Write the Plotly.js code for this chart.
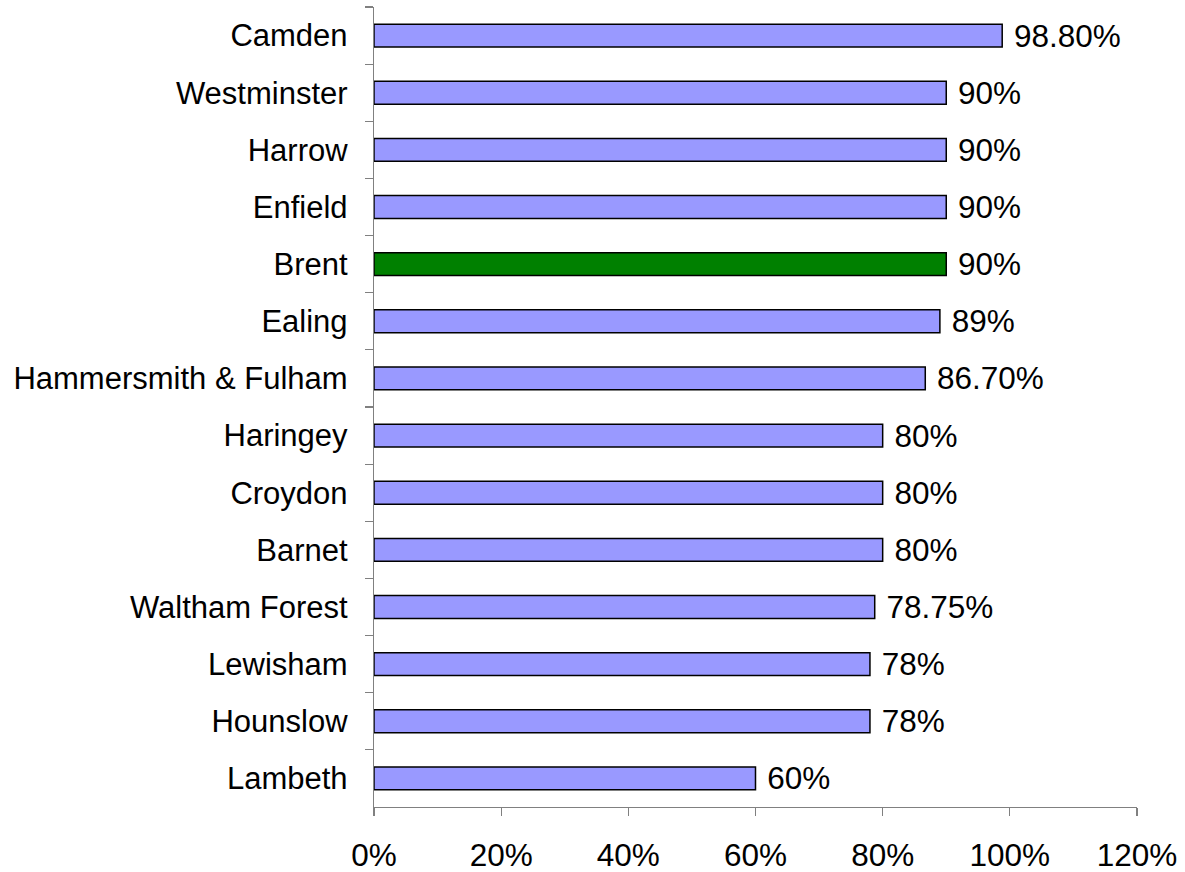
<!DOCTYPE html>
<html>
<head>
<meta charset="utf-8">
<script src="https://cdn.plot.ly/plotly-3.0.1.min.js"></script>
<style>html,body{margin:0;padding:0;background:#fff;}#chart{width:1185px;height:872px;}</style>
</head>
<body>
<div id="chart"></div>
<script>
const boroughs = ["Camden","Westminster","Harrow","Enfield","Brent","Ealing","Hammersmith & Fulham","Haringey","Croydon","Barnet","Waltham Forest","Lewisham","Hounslow","Lambeth"];
const values = [98.8, 90, 90, 90, 90, 89, 86.7, 80, 80, 80, 78.75, 78, 78, 60];
const valueLabels = ["98.80%","90%","90%","90%","90%","89%","86.70%","80%","80%","80%","78.75%","78%","78%","60%"];
const highlight = "Brent";
const xTicks = [0, 20, 40, 60, 80, 100, 120];

const colors = boroughs.map(b => b === highlight ? "#008000" : "#9999FF");
const FONT = "Liberation Sans, Arial, sans-serif";

const trace = {
  type: "bar",
  orientation: "h",
  y: boroughs,
  x: values,
  text: valueLabels.map(t => " " + t),
  textposition: "outside",
  cliponaxis: false,
  constraintext: "none",
  outsidetextfont: {family: FONT, size: 31.5, color: "#000"},
  marker: {color: colors, line: {color: "#000", width: 1.5}},
  width: 0.4,
  hoverinfo: "none"
};

const layout = {
  width: 1185, height: 872,
  margin: {l: 374, r: 48, t: 7, b: 65},
  paper_bgcolor: "#fff", plot_bgcolor: "#fff",
  showlegend: false,
  font: {family: FONT, size: 31, color: "#000"},
  xaxis: {
    range: [0, 120], tickvals: xTicks, ticktext: xTicks.map(v => v + "%"),
    ticks: "outside", ticklen: 8, tickcolor: "#808080", tickwidth: 1.2,
    showline: true, linecolor: "#808080", linewidth: 1.2,
    showgrid: false, zeroline: false, ticklabelstandoff: 12,
    tickfont: {family: FONT, size: 31.5, color: "#000"}, fixedrange: true
  },
  yaxis: {
    type: "category", autorange: "reversed", tickson: "boundaries",
    ticks: "outside", ticklen: 8, tickcolor: "#808080", tickwidth: 1.2,
    showline: true, linecolor: "#808080", linewidth: 1.2,
    showgrid: false, zeroline: false, ticklabelstandoff: 19,
    tickfont: {family: FONT, size: 31, color: "#000"}, fixedrange: true
  }
};

Plotly.newPlot("chart", [trace], layout, {staticPlot: true, displayModeBar: false});
</script>
</body>
</html>
